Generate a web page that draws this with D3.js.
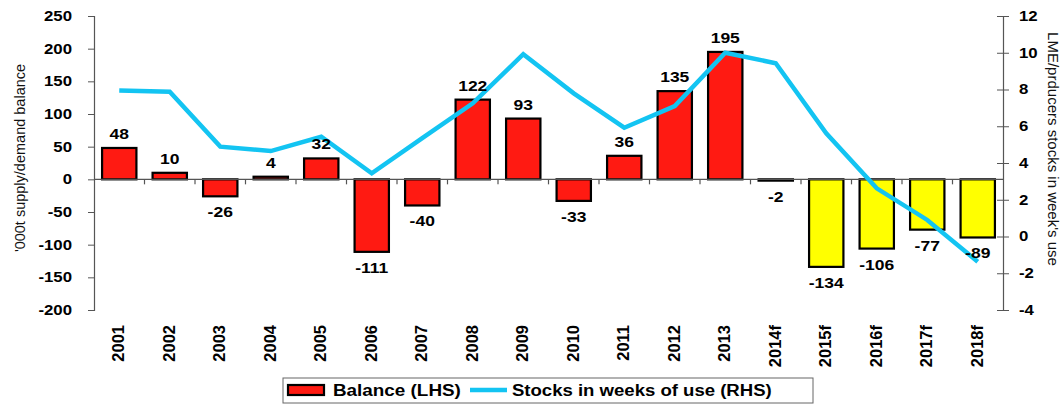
<!DOCTYPE html>
<html><head><meta charset="utf-8">
<script src="https://cdn.jsdelivr.net/npm/d3@7"></script>
<style>
body{margin:0;background:#fff;}
text{font-family:"Liberation Sans",Arial,sans-serif;}
</style></head>
<body><svg id="c" width="1063" height="405"></svg>
<script>
const categories = ["2001","2002","2003","2004","2005","2006","2007","2008","2009","2010","2011","2012","2013","2014f","2015f","2016f","2017f","2018f"];
const balance = [48,10,-26,4,32,-111,-40,122,93,-33,36,135,195,-2,-134,-106,-77,-89];
const forecastFlags = [0,0,0,0,0,0,0,0,0,0,0,0,0,0,1,1,1,1];
const stocks = [7.95,7.88,4.89,4.65,5.43,3.44,5.35,7.25,9.92,7.79,5.92,7.1,10.0,9.43,5.62,2.62,0.9,-1.37];
const leftTicks = [-200,-150,-100,-50,0,50,100,150,200,250];
const rightTicks = [-4,-2,0,2,4,6,8,10,12];

const svg = d3.select("#c");
const x = d3.scaleBand().domain(categories).range([94,1003]).paddingInner(0.32).paddingOuter(0.16);
const yL = d3.scaleLinear().domain([-200,250]).range([310,16]);
const yR = d3.scaleLinear().domain([-4,12]).range([310,16]);
const step = x.step();
const axisCol = "#555";
const SX = 1.2;

function stretchTicks(g){
  g.selectAll(".tick text").each(function(){
    const t = d3.select(this);
    const xx = +t.attr("x");
    t.attr("x",0).attr("transform",`translate(${xx},0) scale(${SX},1)`);
  });
}

// left axis
const gL = svg.append("g").attr("transform","translate(94,0)")
  .call(d3.axisLeft(yL).tickValues(leftTicks).tickSize(6).tickPadding(16).tickFormat(d=>String(d)));
gL.select(".domain").attr("stroke",axisCol).attr("stroke-width",1.2);
gL.selectAll(".tick line").attr("stroke",axisCol);
gL.selectAll(".tick text").attr("font-size",14).attr("font-weight","bold").attr("fill","#000")
  .attr("font-family","Liberation Sans, Arial, sans-serif");
stretchTicks(gL);

// right axis
const gR = svg.append("g").attr("transform","translate(1003,0)")
  .call(d3.axisRight(yR).tickValues(rightTicks).tickSize(6).tickPadding(10).tickFormat(d=>String(d)));
gR.select(".domain").attr("stroke",axisCol).attr("stroke-width",1.2);
gR.selectAll(".tick line").attr("stroke",axisCol).attr("x1",-6);
gR.selectAll(".tick text").attr("font-size",14).attr("font-weight","bold").attr("fill","#000")
  .attr("font-family","Liberation Sans, Arial, sans-serif");
stretchTicks(gR);

// bars
svg.append("g").selectAll("rect").data(categories).join("rect")
  .attr("x",(d)=>x(d))
  .attr("width",x.bandwidth())
  .attr("y",(d,i)=>yL(Math.max(0,balance[i])))
  .attr("height",(d,i)=>Math.max(1,Math.abs(yL(balance[i])-yL(0))))
  .attr("fill",(d,i)=>forecastFlags[i]?"#ffff00":"#ff1a12")
  .attr("stroke","#000").attr("stroke-width",2.2);

// zero line and category ticks
svg.append("line").attr("x1",94).attr("x2",1003).attr("y1",yL(0)).attr("y2",yL(0))
  .attr("stroke",axisCol).attr("stroke-width",1.2);
svg.append("g").selectAll("line").data(categories.slice(1)).join("line")
  .attr("x1",d=>x(d)-step*x.paddingInner()/2).attr("x2",d=>x(d)-step*x.paddingInner()/2)
  .attr("y1",yL(0)).attr("y2",yL(0)+5).attr("stroke",axisCol).attr("stroke-width",1.2);

// stocks line
const line = d3.line().x((d,i)=>x(categories[i])+x.bandwidth()/2).y(d=>yR(d));
svg.append("path").datum(stocks).attr("d",line).attr("fill","none")
  .attr("stroke","#13c4f2").attr("stroke-width",4.5).attr("stroke-linejoin","miter");

// value labels
svg.append("g").selectAll("text").data(categories).join("text")
  .attr("transform",(d,i)=>`translate(${x(d)+x.bandwidth()/2},${balance[i]>=0 ? yL(balance[i])-9 : yL(balance[i])+21}) scale(1.25,1)`)
  .attr("text-anchor","middle").attr("font-size",14).attr("font-weight","bold")
  .text((d,i)=>String(balance[i]));

// x labels
svg.append("g").selectAll("text").data(categories).join("text")
  .attr("transform",d=>`translate(${x(d)+x.bandwidth()/2+5},325) rotate(-90)`)
  .attr("text-anchor","end").attr("font-size",16.5).attr("font-weight","bold")
  .text(d=>d);

// axis titles
svg.append("text").attr("transform","translate(25,158) rotate(-90)")
  .attr("text-anchor","middle").attr("font-size",14.5).attr("fill","#111")
  .text("'000t supply/demand balance");
svg.append("text").attr("transform","translate(1048,149) rotate(90)")
  .attr("text-anchor","middle").attr("font-size",15).attr("fill","#111")
  .text("LME/prducers stocks in week's use");

// legend
const lg = svg.append("g");
lg.append("rect").attr("x",283).attr("y",378).attr("width",530).attr("height",25)
  .attr("fill","#fff").attr("stroke","#666").attr("stroke-width",1);
lg.append("rect").attr("x",288).attr("y",385).attr("width",36).attr("height",10)
  .attr("fill","#ff1a12").attr("stroke","#000").attr("stroke-width",2.2);
lg.append("text").attr("transform","translate(333,396) scale(1.18,1)")
  .attr("font-size",16).attr("font-weight","bold").text("Balance (LHS)");
lg.append("line").attr("x1",470).attr("x2",507).attr("y1",390).attr("y2",390)
  .attr("stroke","#13c4f2").attr("stroke-width",4.5);
lg.append("text").attr("transform","translate(512,396) scale(1.16,1)")
  .attr("font-size",16).attr("font-weight","bold").text("Stocks in weeks of use (RHS)");
</script></body></html>
